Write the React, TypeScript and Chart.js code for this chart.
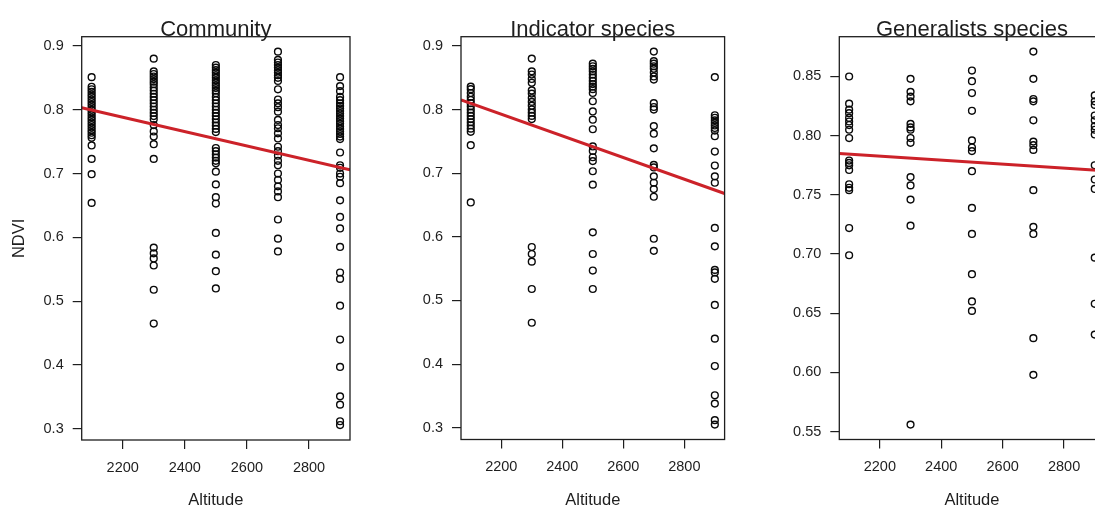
import { useEffect, useRef } from "react";
import { Chart, registerables } from "chart.js";

Chart.register(...registerables);

// Sampling altitudes (m) and axis ticks
const altitudes = [2100, 2300, 2500, 2700, 2900];
const altitudeTicks = [2200, 2400, 2600, 2800];
const ndviTicks = [0.3, 0.4, 0.5, 0.6, 0.7, 0.8, 0.9];
const generalistTicks = [0.55, 0.6, 0.65, 0.7, 0.75, 0.8, 0.85];

// NDVI values per altitude (same order as `altitudes`)
const communityNdvi = [
  [0.851, 0.836, 0.832, 0.828, 0.824, 0.82, 0.816, 0.812, 0.808, 0.804, 0.8, 0.796, 0.792, 0.788, 0.784, 0.78, 0.776, 0.772, 0.768, 0.764, 0.76, 0.756, 0.744, 0.723, 0.699, 0.654],
  [0.88, 0.86, 0.856, 0.852, 0.848, 0.844, 0.84, 0.835, 0.83, 0.825, 0.82, 0.815, 0.81, 0.805, 0.8, 0.795, 0.79, 0.785, 0.776, 0.766, 0.758, 0.746, 0.723, 0.584, 0.575, 0.567, 0.556, 0.518, 0.465],
  [0.87, 0.866, 0.862, 0.858, 0.854, 0.85, 0.846, 0.842, 0.838, 0.834, 0.83, 0.826, 0.82, 0.815, 0.81, 0.805, 0.8, 0.795, 0.79, 0.785, 0.78, 0.775, 0.77, 0.765, 0.74, 0.735, 0.73, 0.725, 0.72, 0.716, 0.703, 0.683, 0.663, 0.653, 0.607, 0.573, 0.547, 0.52],
  [0.891, 0.878, 0.874, 0.87, 0.866, 0.862, 0.858, 0.854, 0.85, 0.845, 0.832, 0.816, 0.81, 0.804, 0.797, 0.784, 0.776, 0.771, 0.763, 0.755, 0.742, 0.735, 0.728, 0.72, 0.713, 0.7, 0.69, 0.68, 0.672, 0.663, 0.628, 0.598, 0.578],
  [0.851, 0.837, 0.829, 0.82, 0.815, 0.81, 0.806, 0.802, 0.798, 0.794, 0.79, 0.786, 0.782, 0.778, 0.774, 0.77, 0.766, 0.762, 0.758, 0.754, 0.733, 0.713, 0.709, 0.7, 0.695, 0.685, 0.658, 0.632, 0.614, 0.585, 0.545, 0.535, 0.493, 0.44, 0.397, 0.351, 0.338, 0.312, 0.306],
];

const indicatorNdvi = [
  [0.836, 0.832, 0.826, 0.82, 0.815, 0.81, 0.805, 0.8, 0.795, 0.79, 0.785, 0.78, 0.775, 0.77, 0.765, 0.744, 0.654],
  [0.88, 0.86, 0.855, 0.848, 0.842, 0.83, 0.825, 0.818, 0.812, 0.806, 0.8, 0.795, 0.79, 0.785, 0.584, 0.573, 0.561, 0.518, 0.465],
  [0.872, 0.868, 0.864, 0.86, 0.855, 0.85, 0.845, 0.84, 0.836, 0.832, 0.826, 0.813, 0.797, 0.784, 0.769, 0.742, 0.735, 0.725, 0.719, 0.703, 0.682, 0.607, 0.573, 0.547, 0.518],
  [0.891, 0.876, 0.872, 0.868, 0.864, 0.858, 0.852, 0.847, 0.81, 0.804, 0.8, 0.774, 0.762, 0.739, 0.713, 0.709, 0.695, 0.685, 0.675, 0.663, 0.597, 0.578],
  [0.851, 0.791, 0.787, 0.783, 0.779, 0.775, 0.771, 0.767, 0.758, 0.734, 0.712, 0.695, 0.685, 0.614, 0.585, 0.548, 0.544, 0.534, 0.493, 0.44, 0.397, 0.351, 0.338, 0.312, 0.305],
];

const generalistNdvi = [
  [0.85, 0.827, 0.822, 0.819, 0.815, 0.812, 0.809, 0.805, 0.798, 0.779, 0.777, 0.775, 0.771, 0.759, 0.756, 0.754, 0.722, 0.699],
  [0.848, 0.837, 0.833, 0.829, 0.81, 0.807, 0.805, 0.798, 0.794, 0.765, 0.758, 0.746, 0.724, 0.556],
  [0.855, 0.846, 0.836, 0.821, 0.796, 0.79, 0.787, 0.77, 0.739, 0.717, 0.683, 0.66, 0.652],
  [0.871, 0.848, 0.831, 0.829, 0.813, 0.795, 0.792, 0.788, 0.754, 0.723, 0.717, 0.629, 0.598],
  [0.834, 0.829, 0.826, 0.817, 0.813, 0.808, 0.805, 0.801, 0.775, 0.763, 0.755, 0.697, 0.658, 0.632],
];

// Linear fits: [intercept, slope per metre]
const communityFit = [1.0352, -0.0001123];
const indicatorFit = [1.1668, -0.0001701];
const generalistFit = [0.8197, -0.0000168];

const FONT = "'Liberation Sans', Arial, Helvetica, sans-serif";
const INK = "#1e1e1e";
const CANVAS_H = 520;
const TITLE_LINE = 14;

// axis extent padded by 4% on both sides
function extent(values: number[]): [number, number] {
  const lo = Math.min(...values);
  const hi = Math.max(...values);
  const pad = (hi - lo) * 0.04;
  return [lo - pad, hi + pad];
}

const plotFrame = {
  id: "plotFrame",
  afterDraw(chart: any) {
    const { ctx, chartArea: a } = chart;
    ctx.save();
    ctx.strokeStyle = INK;
    ctx.lineWidth = 1.3;
    ctx.strokeRect(a.left, a.top, a.right - a.left, a.bottom - a.top);
    ctx.restore();
  },
};

type PanelSpec = {
  title: string;
  values: number[][];
  fit: number[];
  yTicks: number[];
  decimals: number;
  yTitle: string;
  left: number;
  width: number;
  plotLeft: number;
  plotRight: number;
  plotTop: number;
  plotBottom: number;
};

const panels: PanelSpec[] = [
  { title: "Community", values: communityNdvi, fit: communityFit, yTicks: ndviTicks, decimals: 1, yTitle: "NDVI",
    left: 0, width: 365, plotLeft: 81.7, plotRight: 350, plotTop: 36.7, plotBottom: 440 },
  { title: "Indicator species", values: indicatorNdvi, fit: indicatorFit, yTicks: ndviTicks, decimals: 1, yTitle: "",
    left: 365, width: 365, plotLeft: 96, plotRight: 362.7, plotTop: 36.7, plotBottom: 439.5 },
  { title: "Generalists species", values: generalistNdvi, fit: generalistFit, yTicks: generalistTicks, decimals: 2, yTitle: "",
    left: 730, width: 380, plotLeft: 109.3, plotRight: 375.5, plotTop: 36.7, plotBottom: 439.5 },
];

function Panel({ spec }: { spec: PanelSpec }) {
  const ref = useRef<HTMLCanvasElement>(null);

  useEffect(() => {
    const canvas = ref.current;
    if (!canvas) return;
    const points = spec.values.flatMap((vals, i) => vals.map((v) => ({ x: altitudes[i], y: v })));
    const [xMin, xMax] = extent(altitudes);
    const [yMin, yMax] = extent(spec.values.flat());
    const fitLine = [xMin, xMax].map((x) => ({ x, y: spec.fit[0] + spec.fit[1] * x }));
    const tickFont = { family: FONT, size: 14.5 };
    const titleFont = { family: FONT, size: 16.5 };

    const chart = new Chart(canvas, {
      type: "scatter",
      data: {
        datasets: [
          {
            data: points,
            pointStyle: "circle",
            pointRadius: 3.4,
            pointBorderWidth: 1.4,
            borderColor: "#0a0a0a",
            backgroundColor: "rgba(0,0,0,0)",
            order: 1,
          },
          {
            type: "line",
            data: fitLine,
            borderColor: "#cc2229",
            borderWidth: 3,
            pointRadius: 0,
            showLine: true,
            fill: false,
            order: 0,
          } as any,
        ],
      },
      options: {
        animation: false,
        responsive: false,
        devicePixelRatio: 1,
        events: [],
        layout: {
          padding: { left: 0, right: spec.width - spec.plotRight, top: spec.plotTop - TITLE_LINE, bottom: 0 },
        },
        plugins: {
          legend: { display: false },
          tooltip: { enabled: false },
          title: {
            display: true,
            text: spec.title,
            fullSize: false,
            color: INK,
            font: { family: FONT, size: 22, weight: "normal", lineHeight: TITLE_LINE + "px" },
            padding: 0,
          },
        },
        scales: {
          x: {
            type: "linear",
            min: xMin,
            max: xMax,
            afterBuildTicks: (s: any) => {
              s.ticks = altitudeTicks.map((value) => ({ value }));
            },
            afterFit: (s: any) => {
              s.height = CANVAS_H - spec.plotBottom;
            },
            grid: { display: true, drawOnChartArea: false, drawTicks: true, tickLength: 9, color: INK, lineWidth: 1.2 },
            border: { display: false },
            ticks: { color: INK, font: tickFont, padding: 10, maxRotation: 0, callback: (v: any) => String(v) },
            title: { display: true, text: "Altitude", color: INK, font: titleFont, padding: { top: 0, bottom: 9.8 } },
          },
          y: {
            type: "linear",
            min: yMin,
            max: yMax,
            afterBuildTicks: (s: any) => {
              s.ticks = spec.yTicks.map((value) => ({ value }));
            },
            afterFit: (s: any) => {
              s.width = spec.plotLeft;
            },
            grid: { display: true, drawOnChartArea: false, drawTicks: true, tickLength: 9, color: INK, lineWidth: 1.2 },
            border: { display: false },
            ticks: { color: INK, font: tickFont, padding: 9, callback: (v: any) => Number(v).toFixed(spec.decimals) },
            title: { display: spec.yTitle !== "", text: spec.yTitle, color: INK, font: titleFont, padding: { top: 9.8, bottom: 0 } },
          },
        },
      },
      plugins: [plotFrame],
    });
    return () => chart.destroy();
  }, [spec]);

  return (
    <canvas
      ref={ref}
      width={spec.width}
      height={CANVAS_H}
      style={{ position: "absolute", left: spec.left, top: 0, width: spec.width, height: CANVAS_H }}
    />
  );
}

export default function App() {
  return (
    <div
      style={{
        position: "absolute",
        left: 0,
        top: 0,
        width: 1095,
        height: 508,
        overflow: "hidden",
        background: "#fff",
      }}
    >
      {panels.map((p) => (
        <Panel key={p.title} spec={p} />
      ))}
    </div>
  );
}
